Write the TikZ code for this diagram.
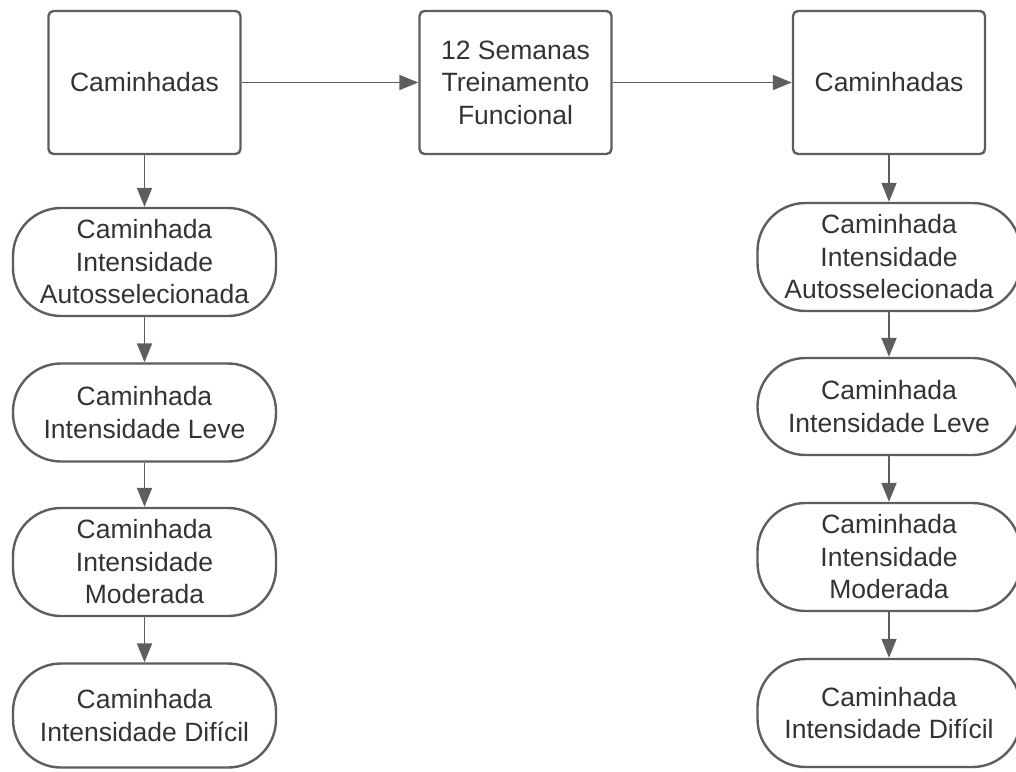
\documentclass[tikz,border=0pt]{standalone}
\usepackage{fontspec}
\setmainfont{Liberation Sans}
\usetikzlibrary{arrows.meta}
\definecolor{linegray}{HTML}{5E5E5E}
\definecolor{textgray}{HTML}{333333}

\begin{document}
\begin{tikzpicture}[x=1pt,y=-1pt,
  every node/.style={font=\fontsize{26.5}{32.5}\selectfont,text=textgray,align=center},
  box/.style={draw=linegray,line width=2.4pt,rounded corners=5pt,inner sep=0pt,minimum width=192pt,minimum height=143pt},
  pill/.style={draw=linegray,line width=2.4pt,rounded corners=48pt,inner sep=0pt,minimum width=263pt},
  flow/.style={draw=linegray,line width=1.8pt,-{Triangle[length=19pt,width=15pt]}}]
\useasboundingbox (0,0) rectangle (1016,771);
\node[box] (cam1) at (144.5,82.5) {Caminhadas};
\node[box] (trein) at (515.5,82.5) {12 Semanas\\Treinamento\\Funcional};
\node[box] (cam2) at (889,82.5) {Caminhadas};
\node[pill,minimum height=108pt] (l1) at (144.5,262) {Caminhada\\Intensidade\\Autosselecionada};
\node[pill,minimum height=98pt] (l2) at (144.5,412.5) {Caminhada\\Intensidade Leve};
\node[pill,minimum height=108pt] (l3) at (144.5,562) {Caminhada\\Intensidade\\Moderada};
\node[pill,minimum height=104pt] (l4) at (144.5,715.5) {Caminhada\\Intensidade Difícil};
\node[pill,minimum height=108pt] (r1) at (889,257) {Caminhada\\Intensidade\\Autosselecionada};
\node[pill,minimum height=97pt] (r2) at (889,406.5) {Caminhada\\Intensidade Leve};
\node[pill,minimum height=108pt] (r3) at (889,557) {Caminhada\\Intensidade\\Moderada};
\node[pill,minimum height=108pt] (r4) at (889,713) {Caminhada\\Intensidade Difícil};
\draw[flow] (cam1) -- (trein);
\draw[flow] (trein) -- (cam2);
\draw[flow] (cam1) -- (l1);
\draw[flow] (l1) -- (l2);
\draw[flow] (l2) -- (l3);
\draw[flow] (l3) -- (l4);
\draw[flow] (cam2) -- (r1);
\draw[flow] (r1) -- (r2);
\draw[flow] (r2) -- (r3);
\draw[flow] (r3) -- (r4);
\end{tikzpicture}
\end{document}
